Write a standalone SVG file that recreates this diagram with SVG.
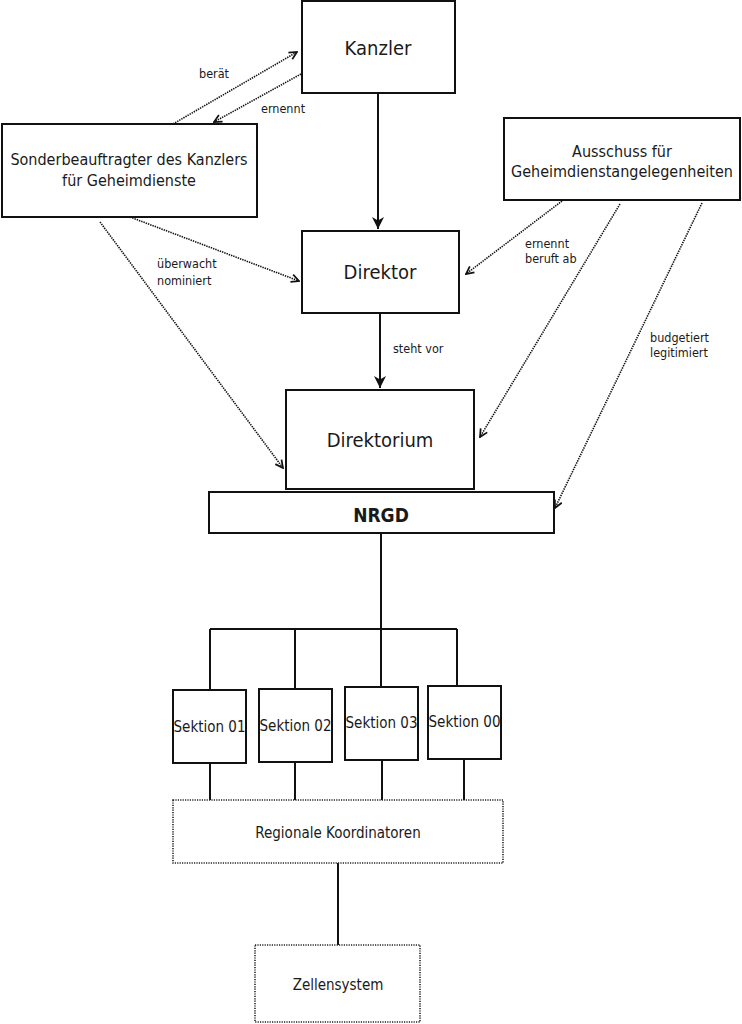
<svg xmlns="http://www.w3.org/2000/svg" width="742" height="1024" viewBox="0 0 742 1024">
<style>
text{font-family:"DejaVu Sans Condensed","DejaVu Sans",sans-serif;fill:#1a1a1a;text-anchor:middle}
.box{fill:#fff;stroke:#111;stroke-width:2}
.dbox{fill:#fff;stroke:#222;stroke-width:1.6;stroke-dasharray:1.2 1.2}
.big{font-size:20px}
.mid{font-size:16px}
.sec{font-size:15px}
.lbl{font-size:12.5px;text-anchor:start}
.solid{fill:none;stroke:#111;stroke-width:2}
.dot{fill:none;stroke:#111;stroke-width:1.6;stroke-dasharray:1.4 1;marker-end:url(#oa)}
</style>
<defs>
<marker id="fa" viewBox="0 0 10 10" refX="10" refY="5" markerWidth="6" markerHeight="6" markerUnits="strokeWidth" orient="auto">
<path d="M0,0 L10,5 L0,10 L3,5 Z" fill="#111"/>
</marker>
<marker id="oa" viewBox="0 0 10 10" refX="9" refY="5" markerWidth="6" markerHeight="6" markerUnits="strokeWidth" orient="auto">
<path d="M1,1 L9,5 L1,9" fill="none" stroke="#111" stroke-width="1.8"/>
</marker>
</defs>
<rect width="742" height="1024" fill="#fff"/>
<g id="connectors">
<line class="solid" x1="378" y1="93" x2="378" y2="229" marker-end="url(#fa)"/>
<line class="solid" x1="380" y1="313" x2="380" y2="388" marker-end="url(#fa)"/>
<path class="solid" d="M381,533 V629 M210,629 H457 M210,629 V690 M295,629 V689 M381,629 V687 M457,629 V686"/>
<path class="solid" d="M210,763 V800 M295,762 V800 M382,760 V800 M464,759 V800 M338,863 V945"/>
<line class="dot" x1="173" y1="124" x2="297" y2="52"/>
<line class="dot" x1="301" y1="74" x2="214" y2="122"/>
<line class="dot" x1="130" y1="217" x2="299" y2="281"/>
<line class="dot" x1="100" y1="222" x2="283" y2="468"/>
<line class="dot" x1="562" y1="201" x2="466" y2="274"/>
<line class="dot" x1="620" y1="204" x2="480" y2="437"/>
<line class="dot" x1="702" y1="203" x2="555" y2="508"/>
<text class="lbl" x="199" y="78">berät</text>
<text class="lbl" x="261" y="113">ernennt</text>
<text class="lbl" x="157" y="268">überwacht</text>
<text class="lbl" x="157" y="285">nominiert</text>
<text class="lbl" x="525" y="248">ernennt</text>
<text class="lbl" x="525" y="263">beruft ab</text>
<text class="lbl" x="393" y="353">steht vor</text>
<text class="lbl" x="650" y="342">budgetiert</text>
<text class="lbl" x="650" y="357">legitimiert</text>
</g>
<g id="kanzler">
<rect class="box" x="302" y="1" width="153" height="92"/>
<text class="big" x="378" y="55">Kanzler</text>
</g>
<g id="sonderbeauftragter">
<rect class="box" x="2" y="124" width="255" height="93"/>
<text class="mid" x="129" y="165">Sonderbeauftragter des Kanzlers</text>
<text class="mid" x="129" y="186">für Geheimdienste</text>
</g>
<g id="ausschuss">
<rect class="box" x="504" y="118" width="236" height="82"/>
<text class="mid" x="622" y="157">Ausschuss für</text>
<text class="mid" x="622" y="177">Geheimdienstangelegenheiten</text>
</g>
<g id="direktor">
<rect class="box" x="302" y="231" width="157" height="82"/>
<text class="big" x="380" y="279">Direktor</text>
</g>
<g id="direktorium">
<rect class="box" x="286" y="390" width="188" height="99"/>
<text class="big" x="380" y="447">Direktorium</text>
</g>
<g id="nrgd">
<rect class="box" x="209" y="492" width="345" height="41"/>
<text x="381" y="522" style="font-size:19px;font-weight:bold">NRGD</text>
</g>
<g id="sektion01">
<rect class="box" x="173" y="690" width="73" height="73"/>
<text class="sec" x="209.5" y="732">Sektion 01</text>
</g>
<g id="sektion02">
<rect class="box" x="259" y="689" width="73" height="73"/>
<text class="sec" x="295.5" y="731">Sektion 02</text>
</g>
<g id="sektion03">
<rect class="box" x="345" y="687" width="73" height="73"/>
<text class="sec" x="381.5" y="728">Sektion 03</text>
</g>
<g id="sektion00">
<rect class="box" x="428" y="686" width="73" height="73"/>
<text class="sec" x="464.5" y="727">Sektion 00</text>
</g>
<g id="regionale">
<rect class="dbox" x="173" y="800" width="330" height="63"/>
<text class="sec" x="338" y="838">Regionale Koordinatoren</text>
</g>
<g id="zellensystem">
<rect class="dbox" x="255" y="945" width="165" height="77"/>
<text class="sec" x="338" y="990">Zellensystem</text>
</g>
</svg>
